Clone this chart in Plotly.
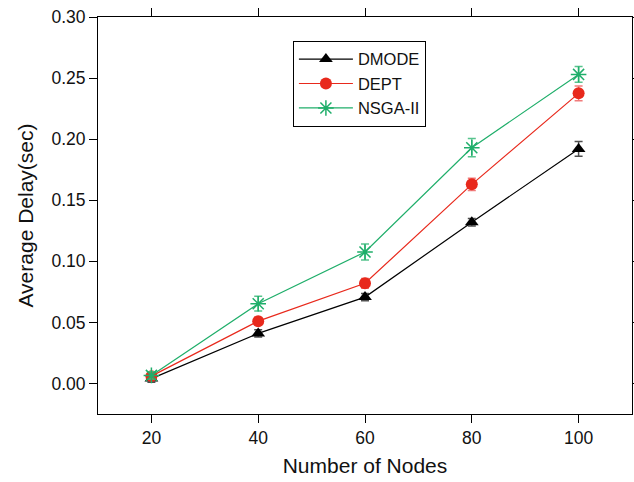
import plotly.graph_objects as go

nodes = [20, 40, 60, 80, 100]
dmode = [0.004, 0.041, 0.0707, 0.132, 0.192]
dmode_err = [0.003, 0.003, 0.003, 0.003, 0.006]
dept = [0.006, 0.051, 0.082, 0.163, 0.2375]
dept_err = [0.002, 0.003, 0.004, 0.005, 0.006]
nsga = [0.0066, 0.0653, 0.1076, 0.193, 0.253]
nsga_err = [0.003, 0.006, 0.0065, 0.0075, 0.0065]

series = [
    ("DMODE", dmode, dmode_err, "#000000", "rgba(60,60,60,0.9)", "triangle-up", 12, 0),
    ("DEPT", dept, dept_err, "#e8291c", "rgba(240,110,110,0.9)", "circle", 12, 0),
    ("NSGA-II", nsga, nsga_err, "#1fae6a", "rgba(70,190,130,0.9)", "asterisk-open", 13, 1.5),
]

fig = go.Figure()
for name, ys, err, col, ecol, sym, size, lw in series:
    fig.add_trace(go.Scatter(
        x=nodes, y=ys, name=name, mode="lines+markers",
        line=dict(color=col, width=1.2),
        marker=dict(symbol=sym, size=size, color=col, line=dict(color=col, width=lw)),
        error_y=dict(type="data", array=err, visible=True, color=ecol, thickness=1.5, width=4),
    ))

fig.update_layout(
    width=634, height=482,
    margin=dict(l=97.5, r=2, t=17, b=68),
    plot_bgcolor="white", paper_bgcolor="white",
    font=dict(family="Liberation Sans, Arial", size=17.5, color="#111"),
    showlegend=True,
    legend=dict(
        x=0.365, y=0.94, xanchor="left", yanchor="top",
        bordercolor="#000", borderwidth=1, bgcolor="white",
        font=dict(size=16.5, color="#111"), tracegroupgap=0, itemwidth=54,
        entrywidth=86, entrywidthmode="pixels",
    ),
    xaxis=dict(
        range=[10, 110], tickvals=nodes, ticktext=[str(n) for n in nodes],
        ticks="outside", ticklen=8, tickcolor="#000", showline=True, linecolor="#000",
        linewidth=1, mirror="ticks", showgrid=False, zeroline=False, automargin=False,
        title=dict(text="Number of Nodes", font=dict(size=21), standoff=11),
    ),
    yaxis=dict(
        range=[-0.025, 0.30], tickvals=[0, 0.05, 0.10, 0.15, 0.20, 0.25, 0.30],
        tickformat=".2f", ticks="outside", ticklen=8, tickcolor="#000",
        showline=True, linecolor="#000", linewidth=1, mirror="ticks",
        showgrid=False, zeroline=False, automargin=False,
        title=dict(text="Average Delay(sec)", font=dict(size=21), standoff=12),
    ),
)

fig.write_html("out.html")
